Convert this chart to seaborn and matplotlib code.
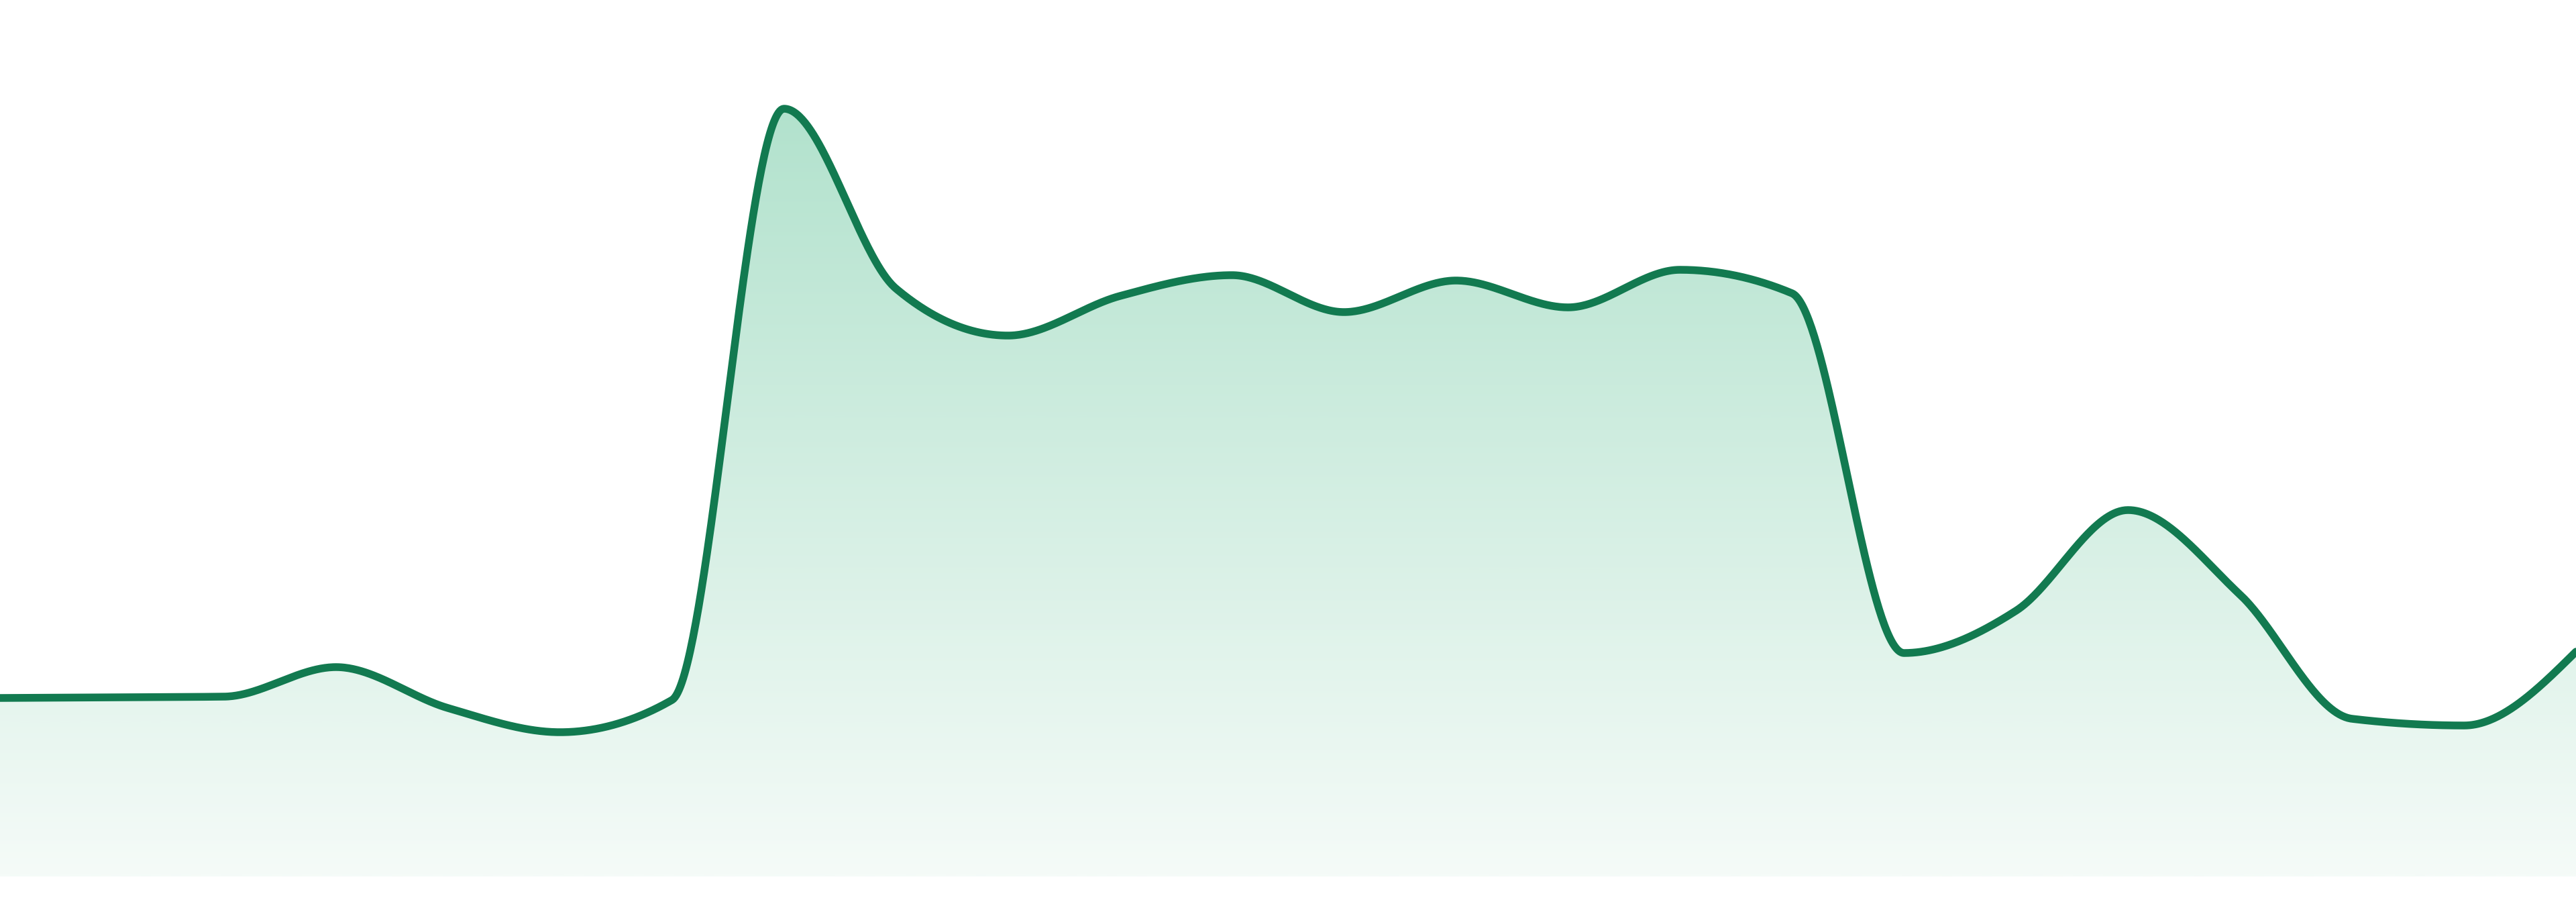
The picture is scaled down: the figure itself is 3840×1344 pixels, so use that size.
import numpy as np
import matplotlib
matplotlib.use("Agg")
import matplotlib.pyplot as plt
import seaborn as sns
from matplotlib.colors import LinearSegmentedColormap
from matplotlib.patches import Polygon

# ---- data (height above baseline) ----
periods = list(range(24))
values = [266, 267, 268, 312, 251, 215, 263, 1144, 876, 806, 865, 896,
          841, 888, 848, 904, 869, 333, 396, 546, 420, 235, 225, 335]

LINE_COLOR = "#127a50"
GRAD_TOP = (178 / 255, 226 / 255, 205 / 255)
GRAD_BOTTOM = (245 / 255, 251 / 255, 248 / 255)


def monotone_x(x, y, samples=80):
    """Monotone cubic interpolation (like d3.curveMonotoneX)."""
    x = np.asarray(x, float)
    y = np.asarray(y, float)
    n = len(x)
    h = np.diff(x)
    s = np.diff(y) / h
    m = np.zeros(n)
    for i in range(1, n - 1):
        s0, s1 = s[i - 1], s[i]
        h0, h1 = h[i - 1], h[i]
        p = (s0 * h1 + s1 * h0) / (h0 + h1)
        m[i] = (np.sign(s0) + np.sign(s1)) * min(abs(s0), abs(s1), 0.5 * abs(p))
    m[0] = (3 * s[0] - m[1]) / 2 if n > 2 else s[0]
    m[-1] = (3 * s[-1] - m[-2]) / 2 if n > 2 else s[-1]
    xs, ys = [], []
    for i in range(n - 1):
        t = np.linspace(0, 1, samples, endpoint=(i == n - 2))
        h00 = 2 * t**3 - 3 * t**2 + 1
        h10 = t**3 - 2 * t**2 + t
        h01 = -2 * t**3 + 3 * t**2
        h11 = t**3 - t**2
        xs.append(x[i] + t * h[i])
        ys.append(h00 * y[i] + h10 * h[i] * m[i] + h01 * y[i + 1] + h11 * h[i] * m[i + 1])
    return np.concatenate(xs), np.concatenate(ys)


sns.set_theme(style="white")
fig = plt.figure(figsize=(38.4, 13.44), dpi=100)
fig.patch.set_facecolor("white")
ax = fig.add_axes([0, 0, 1, 1])
ax.set_facecolor("white")

xs, ys = monotone_x(periods, values)

# gradient area fill
cmap = LinearSegmentedColormap.from_list("g", [GRAD_BOTTOM, GRAD_TOP])
grad = np.linspace(0, 1, 512).reshape(-1, 1)
im = ax.imshow(grad, extent=[periods[0], periods[-1], 0, max(values)],
               aspect="auto", cmap=cmap, origin="lower", zorder=1,
               interpolation="bilinear")
verts = np.column_stack([np.r_[xs, xs[::-1]], np.r_[ys, np.zeros_like(ys)]])
clip = Polygon(verts, closed=True, facecolor="none", edgecolor="none",
               transform=ax.transData)
ax.add_patch(clip)
im.set_clip_path(clip)

# line
sns.lineplot(x=xs, y=ys, ax=ax, color=LINE_COLOR, linewidth=8.3,
             estimator=None, sort=False, zorder=3)
for ln in ax.lines:
    ln.set_solid_capstyle("round")
    ln.set_solid_joinstyle("round")

ax.set_xlim(periods[0], periods[-1])
ax.set_ylim(-38, 1306)
ax.set_axis_off()

fig.savefig("out.png", dpi=100, facecolor="white")
